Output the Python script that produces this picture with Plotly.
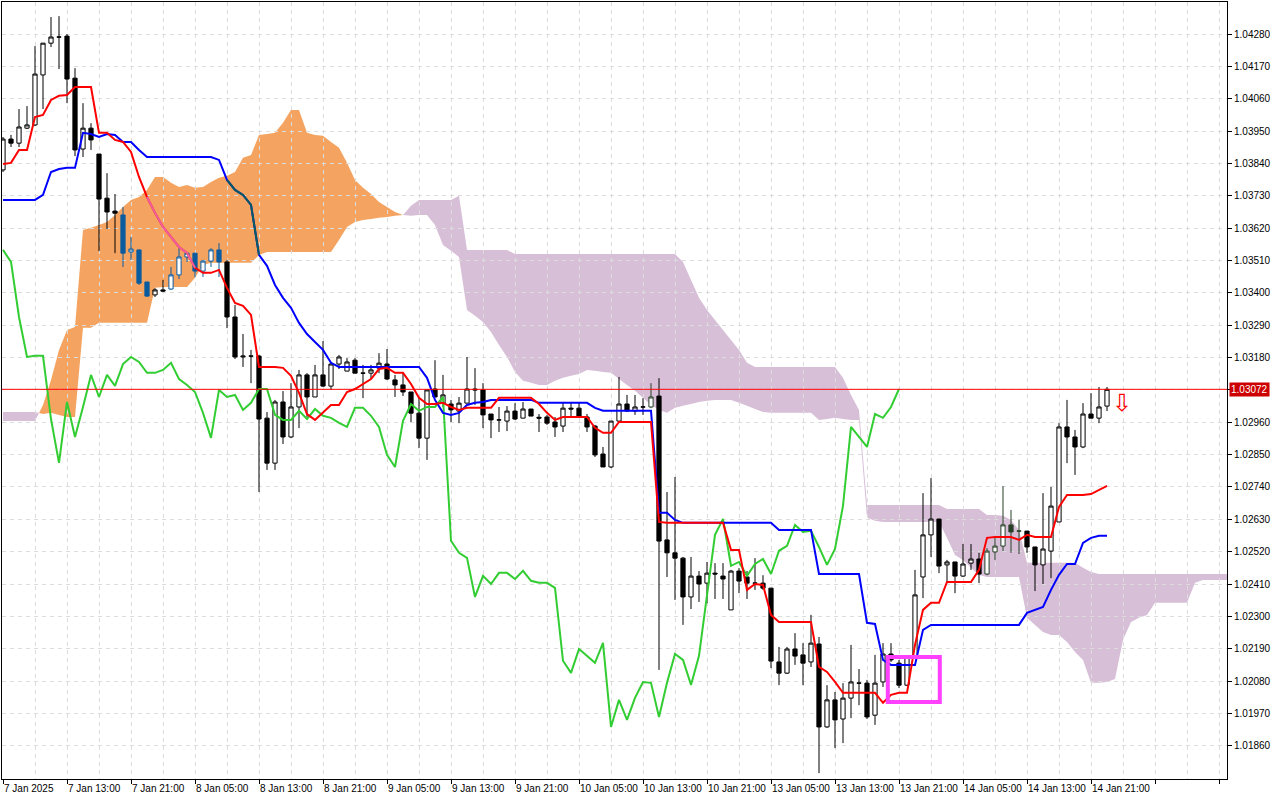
import plotly.graph_objects as go

# hourly EURUSD-style bars, index 0 = first bar on screen
opens = [1.03818, 1.03923, 1.03909, 1.03960, 1.03971, 1.04141, 1.04249, 1.04270, 1.04273, 1.04130,
         1.03889, 1.03960, 1.03872, 1.03722, 1.03678, 1.03665, 1.03539, 1.03546, 1.03437, 1.03393,
         1.03410, 1.03413, 1.03461, 1.03522, 1.03535, 1.03474, 1.03508, 1.03546, 1.03505, 1.03318,
         1.03182, 1.03185, 1.03185, 1.02974, 1.02821, 1.03029, 1.02910, 1.03012, 1.03121, 1.03046,
         1.03121, 1.03083, 1.03158, 1.03134, 1.03171, 1.03127, 1.03127, 1.03144, 1.03158, 1.03104,
         1.03087, 1.03063, 1.02991, 1.02906, 1.03073, 1.03025, 1.03022, 1.02998, 1.03025, 1.03073,
         1.03070, 1.02988, 1.02968, 1.02964, 1.02998, 1.02974, 1.03005, 1.02977, 1.02978, 1.02961,
         1.02947, 1.03008, 1.03008, 1.02978, 1.02947, 1.02852, 1.02808, 1.02964, 1.03022, 1.02998,
         1.03012, 1.03012, 1.03049, 1.02560, 1.02516, 1.02498, 1.02366, 1.02437, 1.02413, 1.02447,
         1.02437, 1.02322, 1.02454, 1.02434, 1.02413, 1.02413, 1.02396, 1.02145, 1.02107, 1.02189,
         1.02169, 1.02145, 1.02206, 1.01924, 1.02016, 1.01951, 1.02022, 1.02073, 1.02073, 1.01964,
         1.02077, 1.02172, 1.02141, 1.02066, 1.02162, 1.02434, 1.02577, 1.02631, 1.02475, 1.02485,
         1.02437, 1.02481, 1.02495, 1.02444, 1.02519, 1.02539, 1.02611, 1.02590, 1.02590, 1.02536,
         1.02475, 1.02522, 1.02621, 1.02944, 1.02910, 1.02876, 1.02988, 1.02974, 1.03015]
highs = [1.03930, 1.03937, 1.04025, 1.04035, 1.04239, 1.04249, 1.04338, 1.04341, 1.04280, 1.04164,
         1.04045, 1.03977, 1.03872, 1.03807, 1.03736, 1.03692, 1.03590, 1.03546, 1.03437, 1.03416,
         1.03444, 1.03488, 1.03552, 1.03539, 1.03535, 1.03512, 1.03552, 1.03569, 1.03512, 1.03359,
         1.03260, 1.03206, 1.03189, 1.02995, 1.03036, 1.03066, 1.03093, 1.03138, 1.03127, 1.03155,
         1.03236, 1.03161, 1.03189, 1.03178, 1.03178, 1.03155, 1.03155, 1.03195, 1.03209, 1.03121,
         1.03127, 1.03063, 1.03046, 1.03070, 1.03171, 1.03121, 1.03036, 1.03046, 1.03182, 1.03144,
         1.03093, 1.02988, 1.03012, 1.03015, 1.03025, 1.03029, 1.03005, 1.02988, 1.02985, 1.02978,
         1.03029, 1.03029, 1.03029, 1.02988, 1.02951, 1.02876, 1.02964, 1.03114, 1.03053, 1.03053,
         1.03042, 1.03093, 1.03110, 1.02723, 1.02774, 1.02502, 1.02502, 1.02454, 1.02485, 1.02481,
         1.02481, 1.02458, 1.02464, 1.02454, 1.02498, 1.02440, 1.02396, 1.02196, 1.02196, 1.02243,
         1.02209, 1.02305, 1.02230, 1.02066, 1.02043, 1.02073, 1.02203, 1.02121, 1.02084, 1.02169,
         1.02209, 1.02209, 1.02152, 1.02165, 1.02458, 1.02719, 1.02770, 1.02631, 1.02492, 1.02485,
         1.02546, 1.02546, 1.02516, 1.02532, 1.02570, 1.02743, 1.02662, 1.02628, 1.02590, 1.02536,
         1.02719, 1.02740, 1.02957, 1.03036, 1.02934, 1.03025, 1.03059, 1.03080, 1.03080]
lows = [1.03811, 1.03896, 1.03896, 1.03957, 1.03967, 1.04025, 1.04236, 1.04161, 1.04045, 1.03865,
        1.03862, 1.03886, 1.03542, 1.03617, 1.03535, 1.03488, 1.03512, 1.03427, 1.03386, 1.03386,
        1.03403, 1.03410, 1.03447, 1.03505, 1.03454, 1.03454, 1.03488, 1.03454, 1.03280, 1.03175,
        1.03148, 1.03093, 1.02723, 1.02798, 1.02798, 1.02886, 1.02906, 1.02940, 1.02978, 1.03046,
        1.03080, 1.03070, 1.03141, 1.03134, 1.03127, 1.03042, 1.03107, 1.03127, 1.03104, 1.03046,
        1.03049, 1.02961, 1.02872, 1.02832, 1.03046, 1.03012, 1.02961, 1.02957, 1.03025, 1.03019,
        1.02940, 1.02906, 1.02927, 1.02930, 1.02968, 1.02974, 1.02981, 1.02927, 1.02951, 1.02910,
        1.02927, 1.02978, 1.02978, 1.02927, 1.02842, 1.02808, 1.02804, 1.02961, 1.02995, 1.02985,
        1.02985, 1.03008, 1.02118, 1.02434, 1.02356, 1.02271, 1.02325, 1.02349, 1.02345, 1.02359,
        1.02359, 1.02322, 1.02379, 1.02359, 1.02390, 1.02390, 1.02124, 1.02066, 1.02104, 1.02135,
        1.02066, 1.02128, 1.01767, 1.01921, 1.01852, 1.01869, 1.01954, 1.01998, 1.01951, 1.01931,
        1.02060, 1.02145, 1.02056, 1.02063, 1.02158, 1.02362, 1.02502, 1.02447, 1.02417, 1.02379,
        1.02434, 1.02458, 1.02413, 1.02440, 1.02492, 1.02522, 1.02516, 1.02512, 1.02516, 1.02386,
        1.02410, 1.02430, 1.02621, 1.02821, 1.02781, 1.02872, 1.02974, 1.02957, 1.02998]
closes = [1.03923, 1.03909, 1.03964, 1.03971, 1.04144, 1.04249, 1.04270, 1.04270, 1.04127, 1.03886,
          1.03960, 1.03920, 1.03719, 1.03675, 1.03671, 1.03535, 1.03549, 1.03433, 1.03389, 1.03410,
          1.03406, 1.03461, 1.03522, 1.03535, 1.03474, 1.03508, 1.03546, 1.03505, 1.03318, 1.03182,
          1.03185, 1.03185, 1.02971, 1.02821, 1.03029, 1.02910, 1.03012, 1.03121, 1.03046, 1.03121,
          1.03083, 1.03158, 1.03182, 1.03165, 1.03127, 1.03127, 1.03138, 1.03161, 1.03107, 1.03087,
          1.03063, 1.02991, 1.02906, 1.03070, 1.03046, 1.03053, 1.03002, 1.03025, 1.03073, 1.03070,
          1.02985, 1.02968, 1.02968, 1.02998, 1.02971, 1.03005, 1.02981, 1.02974, 1.02957, 1.02944,
          1.03008, 1.03005, 1.02981, 1.02944, 1.02849, 1.02808, 1.02964, 1.03022, 1.02998, 1.03012,
          1.03012, 1.03046, 1.02556, 1.02516, 1.02498, 1.02366, 1.02437, 1.02410, 1.02447, 1.02444,
          1.02427, 1.02454, 1.02420, 1.02413, 1.02413, 1.02396, 1.02148, 1.02107, 1.02189, 1.02165,
          1.02141, 1.02209, 1.01924, 1.02016, 1.01948, 1.02022, 1.02077, 1.02073, 1.01958, 1.02073,
          1.02172, 1.02152, 1.02066, 1.02165, 1.02373, 1.02577, 1.02631, 1.02471, 1.02485, 1.02437,
          1.02478, 1.02495, 1.02444, 1.02522, 1.02539, 1.02611, 1.02587, 1.02590, 1.02536, 1.02475,
          1.02529, 1.02675, 1.02944, 1.02910, 1.02876, 1.02988, 1.02974, 1.03012, 1.03072]

tenkan = [1.03838, 1.03842, 1.03886, 1.03886, 1.03998, 1.04005, 1.04056, 1.04070, 1.04073, 1.04100,
          1.04100, 1.04100, 1.03944, 1.03944, 1.03920, 1.03913, 1.03879, 1.03794, 1.03726, 1.03672,
          1.03624, 1.03590, 1.03556, 1.03536, 1.03485, 1.03468, 1.03468, 1.03478, 1.03417, 1.03366,
          1.03356, 1.03325, 1.03148, 1.03148, 1.03148, 1.03145, 1.03118, 1.03060, 1.02988, 1.02968,
          1.02992, 1.03019, 1.03019, 1.03063, 1.03073, 1.03090, 1.03107, 1.03141, 1.03145, 1.03128,
          1.03128, 1.03090, 1.03043, 1.03022, 1.03022, 1.03026, 1.03012, 1.03002, 1.03009, 1.03009,
          1.03009, 1.03009, 1.03043, 1.03043, 1.03043, 1.03043, 1.03043, 1.03022, 1.02992, 1.02968,
          1.02978, 1.02978, 1.02978, 1.02978, 1.02941, 1.02924, 1.02924, 1.02961, 1.02961, 1.02961,
          1.02961, 1.02961, 1.02621, 1.02618, 1.02618, 1.02618, 1.02618, 1.02618, 1.02618, 1.02618,
          1.02618, 1.02526, 1.02526, 1.02390, 1.02410, 1.02407, 1.02305, 1.02281, 1.02281, 1.02281,
          1.02281, 1.02281, 1.02128, 1.02111, 1.02077, 1.02040, 1.02040, 1.02040, 1.02040, 1.02040,
          1.02006, 1.02033, 1.02040, 1.02040, 1.02203, 1.02322, 1.02346, 1.02346, 1.02417, 1.02417,
          1.02417, 1.02417, 1.02458, 1.02567, 1.02570, 1.02570, 1.02570, 1.02560, 1.02577, 1.02570,
          1.02570, 1.02570, 1.02672, 1.02713, 1.02713, 1.02713, 1.02716, 1.02730, 1.02744]
kijun = [1.03716, 1.03716, 1.03716, 1.03716, 1.03716, 1.03733, 1.03811, 1.03821, 1.03825, 1.03825,
         1.03944, 1.03940, 1.03930, 1.03940, 1.03937, 1.03913, 1.03913, 1.03886, 1.03862, 1.03862,
         1.03862, 1.03862, 1.03862, 1.03862, 1.03862, 1.03862, 1.03862, 1.03852, 1.03784, 1.03750,
         1.03733, 1.03699, 1.03529, 1.03492, 1.03427, 1.03383, 1.03349, 1.03298, 1.03260, 1.03233,
         1.03206, 1.03162, 1.03148, 1.03148, 1.03148, 1.03148, 1.03148, 1.03148, 1.03148, 1.03148,
         1.03148, 1.03148, 1.03148, 1.03111, 1.03036, 1.02992, 1.02985, 1.02992, 1.03019, 1.03026,
         1.03029, 1.03036, 1.03036, 1.03036, 1.03036, 1.03036, 1.03036, 1.03026, 1.03026, 1.03026,
         1.03026, 1.03026, 1.03026, 1.03026, 1.03009, 1.02999, 1.02999, 1.02999, 1.02999, 1.02999,
         1.02999, 1.02999, 1.02652, 1.02652, 1.02628, 1.02618, 1.02618, 1.02618, 1.02618, 1.02618,
         1.02618, 1.02618, 1.02618, 1.02618, 1.02618, 1.02618, 1.02618, 1.02594, 1.02594, 1.02594,
         1.02594, 1.02594, 1.02444, 1.02444, 1.02444, 1.02444, 1.02444, 1.02444, 1.02278, 1.02274,
         1.02152, 1.02135, 1.02135, 1.02135, 1.02135, 1.02254, 1.02271, 1.02271, 1.02271, 1.02271,
         1.02271, 1.02271, 1.02271, 1.02271, 1.02271, 1.02271, 1.02271, 1.02271, 1.02312, 1.02322,
         1.02332, 1.02390, 1.02441, 1.02478, 1.02478, 1.02550, 1.02567, 1.02574, 1.02574]
chikou = [1.03546, 1.03505, 1.03318, 1.03182, 1.03186, 1.03186, 1.02971, 1.02822, 1.03029, 1.02910,
          1.03012, 1.03121, 1.03046, 1.03121, 1.03084, 1.03158, 1.03182, 1.03165, 1.03128, 1.03128,
          1.03138, 1.03162, 1.03107, 1.03087, 1.03063, 1.02992, 1.02907, 1.03070, 1.03046, 1.03053,
          1.03002, 1.03026, 1.03073, 1.03073, 1.02985, 1.02968, 1.02968, 1.02999, 1.02971, 1.03005,
          1.02982, 1.02975, 1.02958, 1.02944, 1.03009, 1.03009, 1.02982, 1.02944, 1.02849, 1.02808,
          1.02965, 1.03022, 1.02999, 1.03012, 1.03012, 1.03046, 1.02557, 1.02516, 1.02499, 1.02366,
          1.02438, 1.02410, 1.02448, 1.02448, 1.02427, 1.02455, 1.02421, 1.02414, 1.02414, 1.02397,
          1.02149, 1.02108, 1.02189, 1.02166, 1.02142, 1.02210, 1.01924, 1.02016, 1.01948, 1.02023,
          1.02077, 1.02074, 1.01958, 1.02074, 1.02172, 1.02152, 1.02067, 1.02166, 1.02373, 1.02577,
          1.02631, 1.02472, 1.02485, 1.02438, 1.02478, 1.02495, 1.02444, 1.02523, 1.02540, 1.02611,
          1.02587, 1.02591, 1.02536, 1.02475, 1.02529, 1.02676, 1.02944, 1.02910, 1.02876, 1.02988,
          1.02975, 1.03012, 1.03073]
span_a = [1.02964, 1.02964, 1.02964, 1.02964, 1.02964, 1.03019, 1.03104, 1.03206, 1.03274, 1.03284,
          1.03614, 1.03621, 1.03631, 1.03641, 1.03665, 1.03692, 1.03716, 1.03726, 1.03750, 1.03794,
          1.03794, 1.03774, 1.03760, 1.03767, 1.03757, 1.03760, 1.03777, 1.03791, 1.03798, 1.03811,
          1.03859, 1.03869, 1.03937, 1.03940, 1.03944, 1.03978, 1.04022, 1.04022, 1.03944, 1.03937,
          1.03934, 1.03913, 1.03893, 1.03842, 1.03784, 1.03757, 1.03736, 1.03709, 1.03692, 1.03675,
          1.03665, 1.03662, 1.03665, 1.03665, 1.03631, 1.03563, 1.03543, 1.03522, 1.03342, 1.03322,
          1.03301, 1.03267, 1.03223, 1.03182, 1.03131, 1.03101, 1.03094, 1.03087, 1.03087, 1.03101,
          1.03111, 1.03118, 1.03124, 1.03138, 1.03135, 1.03131, 1.03128, 1.03107, 1.03087, 1.03067,
          1.03043, 1.03019, 1.03002, 1.02992, 1.03009, 1.03016, 1.03022, 1.03029, 1.03033, 1.03036,
          1.03036, 1.03036, 1.03026, 1.03016, 1.03005, 1.02995, 1.02992, 1.02992, 1.02992, 1.02992,
          1.02992, 1.02992, 1.02968, 1.02971, 1.02975, 1.02971, 1.02968, 1.02968, 1.02635, 1.02625,
          1.02621, 1.02621, 1.02621, 1.02621, 1.02621, 1.02621, 1.02621, 1.02621, 1.02567, 1.02509,
          1.02492, 1.02465, 1.02441, 1.02434, 1.02434, 1.02434, 1.02434, 1.02434, 1.02295, 1.02271,
          1.02247, 1.02237, 1.02237, 1.02213, 1.02179, 1.02152, 1.02074, 1.02074, 1.02077, 1.02087,
          1.02220, 1.02281, 1.02295, 1.02305, 1.02346, 1.02346, 1.02346, 1.02346, 1.02346, 1.02414,
          1.02424, 1.02424, 1.02424, 1.02424]
span_b = [1.02995, 1.02995, 1.02995, 1.02995, 1.02995, 1.02988, 1.02992, 1.02985, 1.02978, 1.02978,
          1.03281, 1.03281, 1.03298, 1.03298, 1.03298, 1.03298, 1.03298, 1.03298, 1.03298, 1.03417,
          1.03420, 1.03420, 1.03420, 1.03420, 1.03451, 1.03495, 1.03502, 1.03502, 1.03502, 1.03502,
          1.03502, 1.03502, 1.03529, 1.03539, 1.03539, 1.03539, 1.03539, 1.03539, 1.03539, 1.03539,
          1.03539, 1.03539, 1.03580, 1.03624, 1.03641, 1.03648, 1.03651, 1.03655, 1.03658, 1.03662,
          1.03665, 1.03696, 1.03716, 1.03716, 1.03716, 1.03716, 1.03716, 1.03730, 1.03546, 1.03546,
          1.03546, 1.03546, 1.03546, 1.03546, 1.03532, 1.03532, 1.03532, 1.03532, 1.03532, 1.03532,
          1.03532, 1.03532, 1.03532, 1.03532, 1.03532, 1.03532, 1.03532, 1.03532, 1.03532, 1.03532,
          1.03532, 1.03532, 1.03532, 1.03532, 1.03532, 1.03505, 1.03444, 1.03383, 1.03342, 1.03308,
          1.03274, 1.03240, 1.03206, 1.03162, 1.03148, 1.03148, 1.03148, 1.03148, 1.03148, 1.03148,
          1.03148, 1.03148, 1.03148, 1.03148, 1.03148, 1.03111, 1.03053, 1.03002, 1.02679, 1.02679,
          1.02679, 1.02679, 1.02679, 1.02679, 1.02679, 1.02679, 1.02679, 1.02679, 1.02665, 1.02665,
          1.02665, 1.02665, 1.02665, 1.02645, 1.02645, 1.02642, 1.02628, 1.02594, 1.02482, 1.02482,
          1.02482, 1.02482, 1.02482, 1.02482, 1.02482, 1.02465, 1.02451, 1.02444, 1.02444, 1.02444,
          1.02444, 1.02444, 1.02444, 1.02444, 1.02444, 1.02444, 1.02444, 1.02444, 1.02444, 1.02444,
          1.02444, 1.02444, 1.02444, 1.02444]

tick_labels = ["7 Jan 2025", "7 Jan 13:00", "7 Jan 21:00", "8 Jan 05:00", "8 Jan 13:00",
               "8 Jan 21:00", "9 Jan 05:00", "9 Jan 13:00", "9 Jan 21:00", "10 Jan 05:00",
               "10 Jan 13:00", "10 Jan 21:00", "13 Jan 05:00", "13 Jan 13:00", "13 Jan 21:00",
               "14 Jan 05:00", "14 Jan 13:00", "14 Jan 21:00"]
price_ticks = [1.01860, 1.01970, 1.02080, 1.02190, 1.02300, 1.02410, 1.02520, 1.02630, 1.02740,
               1.02850, 1.02960, 1.03070, 1.03180, 1.03290, 1.03400, 1.03510, 1.03620, 1.03730,
               1.03840, 1.03950, 1.04060, 1.04170, 1.04280]

current_price = 1.03072
# candles that MT4 shows in inverted colour because they sit on the cloud
blue_bars = [15, 16, 17, 18, 21, 22, 23, 24, 25, 26, 27]
dark_bars = [81, 123, 124, 125, 126, 127]
pink_tenkan = (18, 24)
teal_kijun = (28, 32)
signal_box = (110.6, 117.1, 1.02009, 1.02162)
signal_arrow = (139.9, 1.03026)

ORANGE = "#F4A460"
THISTLE = "#D8BFD8"
GRID = "#dcdcdc"
FONT = "Liberation Sans"


def cloud_paths(a, b):
    # one closed path per run of bullish / bearish cloud, split at the crossings
    out = []
    n = len(a)
    i = 0
    while i < n:
        bull = a[i] >= b[i]
        j = i
        while j + 1 < n and (a[j + 1] >= b[j + 1]) == bull:
            j += 1
        xs = list(range(i, j + 1))
        top = list(a[i:j + 1])
        bot = list(b[i:j + 1])
        if i > 0:
            d0, d1 = a[i - 1] - b[i - 1], a[i] - b[i]
            t = d0 / (d0 - d1)
            yc = a[i - 1] + t * (a[i] - a[i - 1])
            xs, top, bot = [i - 1 + t] + xs, [yc] + top, [yc] + bot
        if j < n - 1:
            d0, d1 = a[j] - b[j], a[j + 1] - b[j + 1]
            t = d0 / (d0 - d1)
            yc = a[j] + t * (a[j + 1] - a[j])
            xs, top, bot = xs + [j + t], top + [yc], bot + [yc]
        pts = list(zip(xs, top)) + list(zip(xs[::-1], bot[::-1]))
        path = "M " + " L ".join("%.4f,%.6f" % p for p in pts) + " Z"
        out.append((ORANGE if bull else THISTLE, path))
        i = j + 1
    return out


fig = go.Figure()

# cloud sits under the grid, like the terminal's histogram
for color, path in cloud_paths(span_a, span_b):
    fig.add_shape(type="path", path=path, xref="x", yref="y", fillcolor=color,
                  line=dict(width=0), layer="below")


def add_candles(idx, color):
    fig.add_trace(go.Candlestick(
        x=idx,
        open=[opens[k] for k in idx], high=[highs[k] for k in idx],
        low=[lows[k] for k in idx], close=[closes[k] for k in idx],
        increasing=dict(line=dict(color=color, width=1), fillcolor="white"),
        decreasing=dict(line=dict(color=color, width=1), fillcolor=color),
        whiskerwidth=0, hoverinfo="skip"))


special = set(blue_bars) | set(dark_bars)
add_candles([k for k in range(len(opens)) if k not in special], "black")
add_candles(blue_bars, "#0B5B9F")
add_candles(dark_bars, "#274027")

fig.add_trace(go.Scatter(x=list(range(len(chikou))), y=chikou, mode="lines",
                         line=dict(color="#32CD32", width=2)))
fig.add_trace(go.Scatter(x=list(range(len(kijun))), y=kijun, mode="lines",
                         line=dict(color="#0000FF", width=2)))
fig.add_trace(go.Scatter(x=list(range(teal_kijun[0], teal_kijun[1] + 1)),
                         y=kijun[teal_kijun[0]:teal_kijun[1] + 1], mode="lines",
                         line=dict(color="#0B5A5F", width=2)))
fig.add_trace(go.Scatter(x=list(range(len(tenkan))), y=tenkan, mode="lines",
                         line=dict(color="#FF0000", width=2)))
fig.add_trace(go.Scatter(x=list(range(pink_tenkan[0], pink_tenkan[1] + 1)),
                         y=tenkan[pink_tenkan[0]:pink_tenkan[1] + 1], mode="lines",
                         line=dict(color="#F0609F", width=2)))

fig.add_hline(y=current_price, line=dict(color="#FF0000", width=1))
fig.add_annotation(x=1, xref="paper", xanchor="left", xshift=2, y=current_price, yref="y",
                   text="1.03072", showarrow=False, bgcolor="#CC0000", borderpad=1,
                   font=dict(color="white", size=10, family=FONT))
fig.add_annotation(x=signal_arrow[0], y=signal_arrow[1], text="\u21e9", showarrow=False,
                   font=dict(color="#FF0000", size=24, family="DejaVu Sans"))
fig.add_shape(type="rect", x0=signal_box[0], x1=signal_box[1], y0=signal_box[2], y1=signal_box[3],
              line=dict(color="#FF40FF", width=4))

fig.update_layout(
    width=1280, height=800,
    margin=dict(l=2, r=53, t=2, b=21, autoexpand=False),
    paper_bgcolor="white", plot_bgcolor="white",
    showlegend=False,
    boxmode="overlay", boxgap=0.25,
    font=dict(family=FONT, size=10, color="black"),
)
fig.update_xaxes(
    range=[-0.125, 153], rangeslider=dict(visible=False), automargin=False,
    tickmode="array", tickvals=list(range(0, 153, 8)),
    ticktext=tick_labels + [""] * (len(range(0, 153, 8)) - len(tick_labels)),
    tickangle=0, ticks="outside", ticklen=4, tickcolor="black",
    ticklabelposition="outside right",
    showline=True, linecolor="black", mirror=True, zeroline=False,
    showgrid=True, gridcolor=GRID, griddash="4px,4px",
    minor=dict(tickmode="array", tickvals=list(range(4, 153, 8)), showgrid=True,
               gridcolor=GRID, griddash="4px,4px", ticks=""),
)
# the current-price box covers the 1.03070 label, as on the terminal
fig.update_yaxes(
    side="right", range=[1.01747, 1.04389], automargin=False,
    tickmode="array", tickvals=price_ticks,
    ticktext=["" if p == 1.03070 else "%.5f" % p for p in price_ticks],
    ticks="outside", ticklen=4, tickcolor="black",
    showline=True, linecolor="black", mirror=True, zeroline=False,
    showgrid=True, gridcolor=GRID, griddash="4px,4px",
)

fig.write_html("out.html", config={"displayModeBar": False},
               post_script="document.body.style.margin='0';")
